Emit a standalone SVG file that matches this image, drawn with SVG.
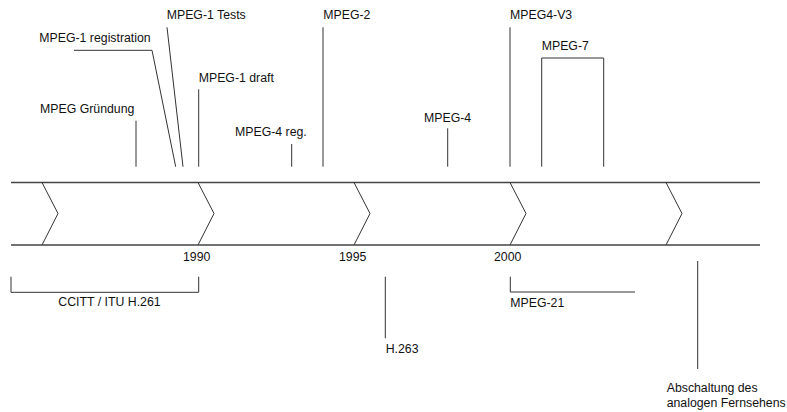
<svg xmlns="http://www.w3.org/2000/svg" width="787" height="412" viewBox="0 0 787 412">
<style>
text{font-family:"Liberation Sans",Arial,sans-serif;font-size:12.3px;fill:#111}
.ln{stroke:#333;stroke-width:1;fill:none}
.tl{stroke:#444;stroke-width:1.3;fill:none}
</style>
<rect width="787" height="412" fill="#fff"/>
<g id="timeline">
<line class="tl" x1="11" y1="182.5" x2="760" y2="182.5"/>
<line class="tl" x1="11" y1="245" x2="760" y2="245"/>
<g id="chevrons">
<polyline class="ln" points="42,182.5 58,213.5 42,245"/>
<polyline class="ln" points="198,182.5 214,213.5 198,245"/>
<polyline class="ln" points="354,182.5 370,213.5 354,245"/>
<polyline class="ln" points="510,182.5 526,213.5 510,245"/>
<polyline class="ln" points="666,182.5 682,213.5 666,245"/>
</g>
<text x="183" y="260.7">1990</text>
<text x="339" y="260.7">1995</text>
<text x="494" y="260.7">2000</text>
</g>
<g id="connectors">
<line class="ln" x1="136" y1="120.7" x2="136" y2="166.7"/>
<polyline class="ln" points="74,50.3 152,50.3 175.7,166.7"/>
<line class="ln" x1="167" y1="27.3" x2="183" y2="166.7"/>
<line class="ln" x1="198.7" y1="89.3" x2="198.7" y2="166.7"/>
<line class="ln" x1="291.7" y1="144" x2="291.7" y2="166.7"/>
<line class="ln" x1="323" y1="27.3" x2="323" y2="166.7"/>
<line class="ln" x1="447.7" y1="128.3" x2="447.7" y2="166.7"/>
<line class="ln" x1="510" y1="27.3" x2="510" y2="166.7"/>
<polyline class="ln" points="541.7,166.7 541.7,58 603.7,58 603.7,166.7"/>
<polyline class="ln" points="11,276.7 11,292.3 198.7,292.3 198.7,276.7"/>
<line class="ln" x1="385.3" y1="276.7" x2="385.3" y2="338.3"/>
<polyline class="ln" points="510.3,276.7 510.3,292 635,292"/>
<line class="ln" x1="697.7" y1="261" x2="697.7" y2="369"/>
</g>
<g id="n-gruendung"><text x="40" y="113.3">MPEG Gründung</text></g>
<g id="n-registration"><text x="39.3" y="42.3">MPEG-1 registration</text></g>
<g id="n-tests"><text x="166.7" y="19">MPEG-1 Tests</text></g>
<g id="n-draft"><text x="198.7" y="82.3">MPEG-1 draft</text></g>
<g id="n-mpeg4reg"><text x="235" y="135.5">MPEG-4 reg.</text></g>
<g id="n-mpeg2"><text x="323.3" y="19">MPEG-2</text></g>
<g id="n-mpeg4"><text x="424" y="121.7">MPEG-4</text></g>
<g id="n-mpeg4v3"><text x="510" y="19">MPEG4-V3</text></g>
<g id="n-mpeg7"><text x="541.7" y="50">MPEG-7</text></g>
<g id="n-h261"><text x="58.3" y="306">CCITT / ITU H.261</text></g>
<g id="n-h263"><text x="385.7" y="353.3">H.263</text></g>
<g id="n-mpeg21"><text x="510.3" y="307.3">MPEG-21</text></g>
<g id="n-abschaltung"><text x="666.7" y="391.7">Abschaltung des</text><text x="666.7" y="407.2">analogen Fernsehens</text></g>
</svg>
